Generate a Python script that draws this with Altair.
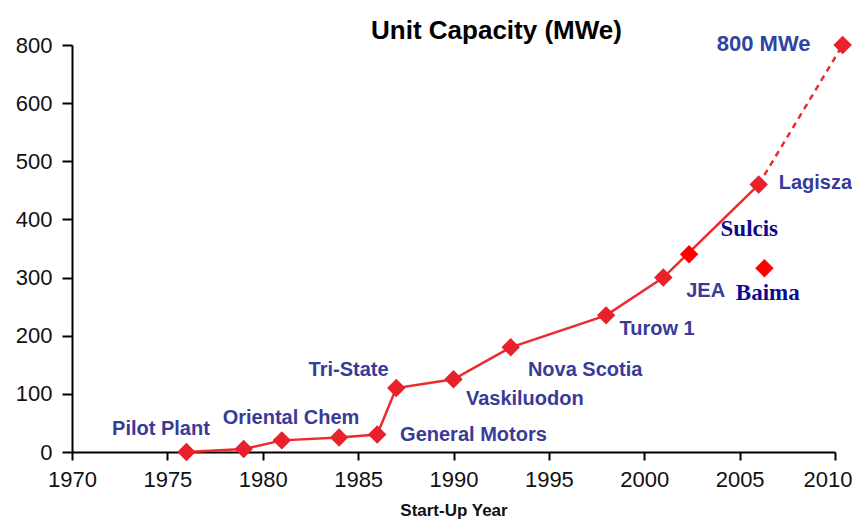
import altair as alt
import pandas as pd

# Main series (solid line)
years = [1976, 1979, 1981, 1984, 1986, 1987, 1990, 1993, 1998, 2001, 2006]
capacity = [0, 5, 20, 25, 30, 110, 125, 180, 235, 300, 460]

# Projection (dashed)
proj_years = [2006, 2010.4]
proj_capacity = [460, 800]

# Highlighted plants (pure red markers)
hl_years = [2002.35, 2006.3]
hl_capacity = [340, 316]

# Labels
sans_names = ["Pilot Plant", "Oriental Chem", "Tri-State", "General Motors", "Vaskiluodon",
              "Nova Scotia", "Turow 1", "JEA", "Lagisza"]
sans_x = [1972.1, 1977.9, 1982.4, 1987.2, 1990.65, 1993.9, 1998.7, 2002.2, 2007.05]
sans_y = [40, 58, 141, 29, 91, 141, 212, 277, 463]

target_names = ["800 MWe"]
target_x = [2003.8]
target_y = [805]

serif_names = ["Sulcis", "Baima"]
serif_x = [2004.0, 2004.8]
serif_y = [384, 274]

y_ticks = [0, 100, 200, 300, 400, 500, 600, 800]
x_ticks = [1970, 1975, 1980, 1985, 1990, 1995, 2000, 2005, 2010]

W, H = 763, 407

main_df = pd.DataFrame({"year": years, "mwe": capacity})
proj_df = pd.DataFrame({"year": proj_years, "mwe": proj_capacity})
hl_df = pd.DataFrame({"year": hl_years, "mwe": hl_capacity})
sans_df = pd.DataFrame({"year": sans_x, "mwe": sans_y, "name": sans_names})
target_df = pd.DataFrame({"year": target_x, "mwe": target_y, "name": target_names})
serif_df = pd.DataFrame({"year": serif_x, "mwe": serif_y, "name": serif_names})

xscale = alt.Scale(domain=[1970, 2010], nice=False, zero=False)
yscale = alt.Scale(domain=[0, 600, 800], range=[H, H / 7, 0], nice=False)

last_x = "datum.value == %d" % x_ticks[-1]
x_axis = alt.Axis(values=x_ticks, format="d", grid=False, domainColor="black", domainWidth=2,
                  tickColor="black", tickWidth=2, tickSize=8, labelFont="Liberation Sans",
                  labelFontSize=22, labelColor="#111111", labelPadding=9, labelFlush=False,
                  labelOverlap=False,
                  labelAlign={"condition": {"test": last_x, "value": "right"}, "value": "center"},
                  labelOffset={"condition": {"test": last_x, "value": 17}, "value": 0},
                  title="Start-Up Year", titleFont="Liberation Sans", titleFontSize=17,
                  titleFontWeight="bold", titleColor="#111111", titlePadding=12)
y_axis = alt.Axis(values=y_ticks, grid=False, domainColor="black", domainWidth=2,
                  tickColor="black", tickWidth=2, tickSize=10, labelFont="Liberation Sans",
                  labelFontSize=22, labelColor="#111111", labelPadding=10, labelFlush=False,
                  labelOverlap=False, title=None)

base_x = alt.X("year:Q", scale=xscale, axis=x_axis)
base_y = alt.Y("mwe:Q", scale=yscale, axis=y_axis)

line_main = alt.Chart(main_df).mark_line(color="#ee2a2d", strokeWidth=2.5).encode(x=base_x, y=base_y)
line_proj = alt.Chart(proj_df).mark_line(color="#ee2a2d", strokeWidth=2.5, strokeDash=[6, 5]).encode(
    x="year:Q", y="mwe:Q")
pts_main = alt.Chart(pd.concat([main_df, proj_df.iloc[[1]]])).mark_point(
    shape="diamond", filled=True, size=340, color="#e8212b", opacity=1).encode(x="year:Q", y="mwe:Q")
pts_hl = alt.Chart(hl_df).mark_point(shape="diamond", filled=True, size=340, color="#ff0000",
                                     opacity=1).encode(x="year:Q", y="mwe:Q")
txt_sans = alt.Chart(sans_df).mark_text(align="left", baseline="middle", font="Liberation Sans",
                                        fontWeight="bold", fontSize=20, color="#383b98").encode(
    x="year:Q", y="mwe:Q", text="name:N")
txt_target = alt.Chart(target_df).mark_text(align="left", baseline="middle", font="Liberation Sans",
                                            fontWeight="bold", fontSize=22, color="#2d45a3").encode(
    x="year:Q", y="mwe:Q", text="name:N")
txt_serif = alt.Chart(serif_df).mark_text(align="left", baseline="middle", font="Liberation Serif",
                                          fontWeight="bold", fontSize=23, color="#0a0a8f").encode(
    x="year:Q", y="mwe:Q", text="name:N")

chart = alt.layer(line_main, line_proj, pts_main, pts_hl, txt_sans, txt_target, txt_serif).properties(
    width=W, height=H,
    title=alt.TitleParams("Unit Capacity (MWe)", font="Liberation Sans", fontSize=26,
                          fontWeight="bold", color="black", anchor="middle", dx=43, dy=19,
                          offset=8, frame="group"),
    padding={"left": 64, "top": 37, "right": 17, "bottom": 70},
    autosize="none",
).configure_view(stroke=None)

chart.save("out.html", embed_options={"renderer": "svg", "actions": False})
